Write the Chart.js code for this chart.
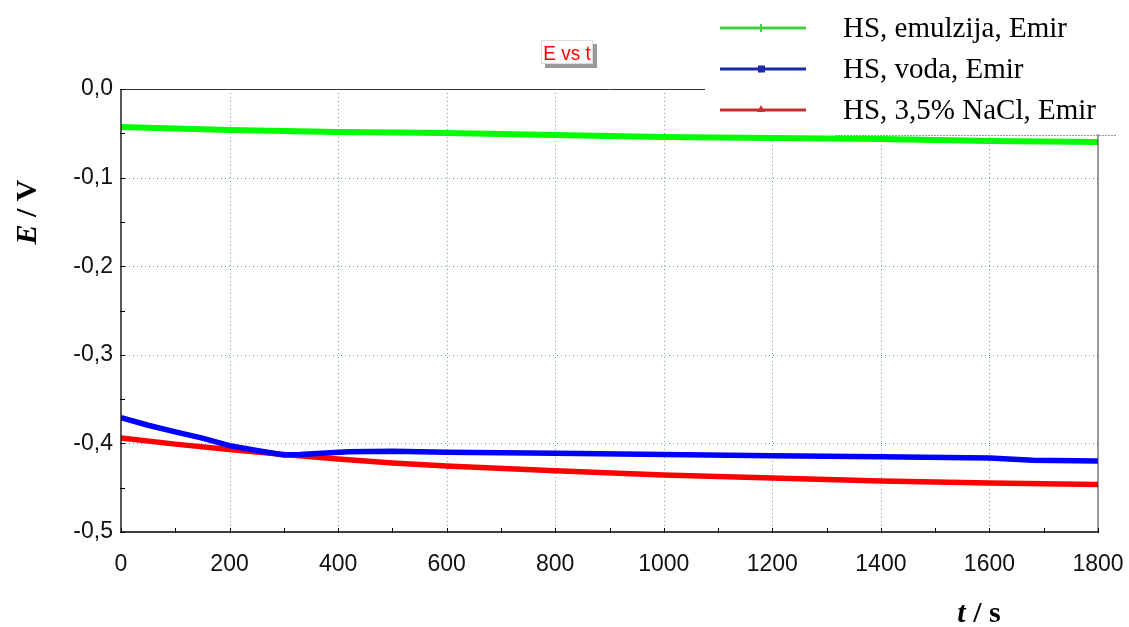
<!DOCTYPE html>
<html>
<head>
<meta charset="utf-8">
<script src="https://cdn.jsdelivr.net/npm/chart.js@4"></script>
<style>
html,body{margin:0;padding:0;background:#fff;}
#wrap{position:relative;width:1129px;height:627px;}
</style>
</head>
<body>
<div id="wrap"><canvas id="c" width="1129" height="627"></canvas></div>
<script>
// ---- data ----
const seriesNames = ["HS, emulzija, Emir", "HS, voda, Emir", "HS, 3,5% NaCl, Emir"];
const greenT = [0, 100, 200, 300, 400, 600, 800, 1000, 1200, 1400, 1600, 1800];
const greenE = [-0.0429, -0.0445, -0.0463, -0.0474, -0.0485, -0.0497, -0.0519, -0.0542, -0.0553, -0.0564, -0.0587, -0.0598];
const blueT = [0, 50, 100, 150, 200, 250, 300, 330, 370, 420, 500, 600, 800, 1000, 1200, 1400, 1600, 1680, 1800];
const blueE = [-0.371, -0.3795, -0.387, -0.394, -0.4025, -0.408, -0.413, -0.4125, -0.411, -0.4095, -0.4088, -0.410, -0.411, -0.4125, -0.414, -0.415, -0.4165, -0.419, -0.420];
const redT = [0, 100, 200, 300, 400, 500, 600, 800, 1000, 1200, 1400, 1600, 1800];
const redE = [-0.394, -0.4008, -0.407, -0.4125, -0.4176, -0.422, -0.4255, -0.431, -0.4357, -0.439, -0.4424, -0.4447, -0.4465];
const xTicks = [0, 200, 400, 600, 800, 1000, 1200, 1400, 1600, 1800];
const yTicks = [0, -0.1, -0.2, -0.3, -0.4, -0.5];
const chartTitle = "E vs t";

const toPts = (t, e) => t.map((v, i) => ({x: v, y: e[i]}));
const colors = ['#00ff00', '#0000ff', '#ff0000'];
const legendColors = ['#44cc44', '#1a2aa8', '#c43030'];

const gridPlugin = {
  id: 'dotgrid',
  beforeDatasetsDraw(chart) {
    const ctx = chart.ctx;
    const xs = chart.scales.x, ys = chart.scales.y;
    const L = xs.left, R = xs.right, T = ys.top, B = ys.bottom;
    ctx.save();
    ctx.strokeStyle = '#6f9e9e';
    ctx.lineWidth = 1;
    ctx.setLineDash([1, 3]);
    xTicks.forEach(v => {
      if (v === 0 || v === 1800) return;
      const x = Math.round(xs.getPixelForValue(v)) + 0.5;
      ctx.beginPath(); ctx.moveTo(x, T); ctx.lineTo(x, B); ctx.stroke();
    });
    yTicks.forEach(v => {
      if (v === 0 || v === -0.5) return;
      const y = Math.round(ys.getPixelForValue(v)) + 0.5;
      ctx.beginPath(); ctx.moveTo(L, y); ctx.lineTo(R, y); ctx.stroke();
    });
    ctx.restore();
  }
};

const overlay = {
  id: 'overlay',
  afterDraw(chart) {
    const ctx = chart.ctx;
    const xs = chart.scales.x, ys = chart.scales.y;
    const L = xs.left, R = xs.right, T = ys.top, B = ys.bottom;
    ctx.save();
    // frame
    ctx.strokeStyle = '#000';
    ctx.lineWidth = 1.3;
    ctx.beginPath();
    ctx.moveTo(L, T); ctx.lineTo(L, B); ctx.lineTo(R, B);
    ctx.stroke();
    ctx.lineWidth = 1;
    ctx.strokeStyle = '#333';
    ctx.beginPath();
    ctx.moveTo(L, T + 0.5); ctx.lineTo(R, T + 0.5); ctx.lineTo(R, B);
    ctx.stroke();
    // ticks
    ctx.strokeStyle = '#000';
    ctx.lineWidth = 1;
    for (let t = 0; t <= 1800; t += 100) {
      const x = Math.round(xs.getPixelForValue(t)) + 0.5;
      ctx.beginPath(); ctx.moveTo(x, B - 4); ctx.lineTo(x, B + 1); ctx.stroke();
    }
    for (let k = 0; k <= 10; k++) {
      const y = Math.round(ys.getPixelForValue(-k * 0.05)) + 0.5;
      ctx.beginPath(); ctx.moveTo(L - 1, y); ctx.lineTo(L + 4, y); ctx.stroke();
    }
    // legend box
    ctx.fillStyle = '#fff';
    ctx.fillRect(705, 0, 412, 134);
    ctx.strokeStyle = '#999';
    ctx.setLineDash([2, 1]);
    ctx.beginPath(); ctx.moveTo(835, 135.5); ctx.lineTo(1117, 135.5); ctx.stroke();
    ctx.setLineDash([]);
    const rows = [28, 69, 110];
    rows.forEach((y, i) => {
      ctx.strokeStyle = legendColors[i];
      ctx.lineWidth = 3;
      ctx.beginPath(); ctx.moveTo(720, y); ctx.lineTo(806, y); ctx.stroke();
      ctx.fillStyle = legendColors[i];
      if (i === 0) {
        ctx.lineWidth = 2;
        ctx.beginPath(); ctx.moveTo(761, y - 4); ctx.lineTo(761, y + 4); ctx.stroke();
      } else if (i === 1) {
        ctx.fillRect(758, y - 3.5, 7, 7);
      } else {
        ctx.beginPath(); ctx.moveTo(761, y - 5); ctx.lineTo(765, y + 2); ctx.lineTo(757, y + 2); ctx.closePath(); ctx.fill();
      }
      ctx.fillStyle = '#000';
      ctx.font = '29px "Liberation Serif", "Times New Roman", serif';
      ctx.textAlign = 'left';
      ctx.textBaseline = 'middle';
      ctx.fillText(seriesNames[i], 843, y + 1);
    });
    // title box with shadow
    ctx.fillStyle = '#999';
    ctx.fillRect(545, 44, 52, 24);
    ctx.fillStyle = '#fff';
    ctx.fillRect(541, 40, 52, 24);
    ctx.strokeStyle = '#ddd';
    ctx.lineWidth = 1;
    ctx.strokeRect(541.5, 40.5, 51, 23);
    ctx.save();
    ctx.fillStyle = '#ff0000';
    ctx.font = '21px "Liberation Sans", Arial, sans-serif';
    ctx.textAlign = 'center';
    ctx.textBaseline = 'middle';
    ctx.translate(567, 54);
    ctx.scale(0.9, 1);
    ctx.fillText(chartTitle, 0, 0);
    ctx.restore();
    // y axis title
    ctx.save();
    ctx.translate(36, 212);
    ctx.rotate(-Math.PI / 2);
    ctx.fillStyle = '#000';
    ctx.textBaseline = 'alphabetic';
    ctx.textAlign = 'left';
    const p1 = 'E', p2 = ' / V';
    ctx.font = 'italic bold 30px "Liberation Serif", serif';
    const w1 = ctx.measureText(p1).width;
    ctx.font = 'bold 30px "Liberation Serif", serif';
    const w2 = ctx.measureText(p2).width;
    const sx = -(w1 + w2) / 2;
    ctx.font = 'italic bold 30px "Liberation Serif", serif';
    ctx.fillText(p1, sx, 0);
    ctx.font = 'bold 30px "Liberation Serif", serif';
    ctx.fillText(p2, sx + w1, 0);
    ctx.restore();
    // x axis title
    {
      const q1 = 't', q2 = ' / s';
      ctx.fillStyle = '#000';
      ctx.textBaseline = 'alphabetic';
      ctx.textAlign = 'left';
      ctx.font = 'italic bold 30px "Liberation Serif", serif';
      const a = ctx.measureText(q1).width;
      ctx.font = 'bold 30px "Liberation Serif", serif';
      const b = ctx.measureText(q2).width;
      const sx2 = 979 - (a + b) / 2;
      ctx.font = 'italic bold 30px "Liberation Serif", serif';
      ctx.fillText(q1, sx2, 622);
      ctx.font = 'bold 30px "Liberation Serif", serif';
      ctx.fillText(q2, sx2 + a, 622);
    }
    ctx.restore();
  }
};

new Chart(document.getElementById('c'), {
  type: 'line',
  data: {
    datasets: [
      {label: seriesNames[0], data: toPts(greenT, greenE), borderColor: colors[0], borderWidth: 6, pointRadius: 0, tension: 0},
      {label: seriesNames[1], data: toPts(blueT, blueE), borderColor: colors[1], borderWidth: 5.5, pointRadius: 0, tension: 0},
      {label: seriesNames[2], data: toPts(redT, redE), borderColor: colors[2], borderWidth: 5.5, pointRadius: 0, tension: 0}
    ]
  },
  options: {
    responsive: false,
    animation: false,
    devicePixelRatio: 1,
    layout: {padding: {left: 0, top: 89, right: 31, bottom: 0}},
    plugins: {legend: {display: false}, title: {display: false}, tooltip: {enabled: false}},
    scales: {
      x: {
        type: 'linear', min: 0, max: 1800,
        afterBuildTicks: s => { s.ticks = xTicks.map(v => ({value: v})); },
        afterFit: s => { s.height = 95; s.paddingLeft = 0; s.paddingRight = 0; },
        border: {display: false},
        grid: {display: false, drawTicks: false},
        ticks: {color: '#111', font: {family: '"Liberation Sans", Arial, sans-serif', size: 23}, padding: 19, maxRotation: 0, callback: v => String(v)}
      },
      y: {
        type: 'linear', min: -0.5, max: 0,
        afterBuildTicks: s => { s.ticks = yTicks.map(v => ({value: v})); },
        afterFit: s => { s.width = 121; s.paddingTop = 0; s.paddingBottom = 0; },
        border: {display: false},
        grid: {display: false, drawTicks: false},
        ticks: {color: '#111', font: {family: '"Liberation Sans", Arial, sans-serif', size: 23}, padding: 8,
          callback: v => v.toFixed(1).replace('.', ',').replace('-0,0', '0,0')}
      }
    }
  },
  plugins: [gridPlugin, overlay]
});
</script>
</body>
</html>
